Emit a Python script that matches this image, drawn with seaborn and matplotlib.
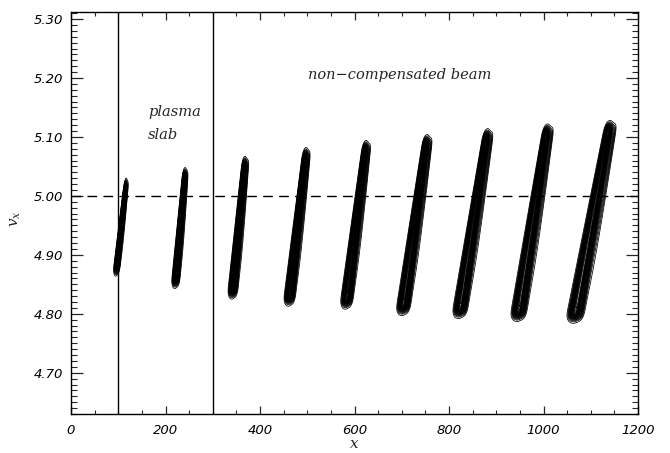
import numpy as np
import matplotlib
matplotlib.use('Agg')
import matplotlib.pyplot as plt
from matplotlib.ticker import MultipleLocator, FormatStrFormatter
import seaborn as sns

sns.set_style('ticks')
plt.rcParams['font.family'] = ['DejaVu Sans']
plt.rcParams['mathtext.fontset'] = 'dejavuserif'

# beam snapshots: bottom and top tip of each phase-space blob
blob_x_bottom = [97, 222, 343, 463, 584, 704, 824, 948, 1068]
blob_v_bottom = [4.875, 4.854, 4.836, 4.824, 4.819, 4.808, 4.803, 4.798, 4.795]
blob_x_top = [116, 241, 368, 497, 624, 753, 881, 1008, 1140]
blob_v_top = [5.019, 5.037, 5.056, 5.071, 5.083, 5.093, 5.103, 5.111, 5.117]
blob_width = [2.6, 3.3, 4.0, 4.6, 5.0, 5.6, 6.0, 6.4, 7.0]

slab_edges = [100, 300]
v_ref = 5.00
x_range = [0, 1200]
v_range = [4.63, 5.312]


def phase_space_density(X, V):
    Z = np.zeros_like(X)
    s = 0.007
    for xb, vb, xt, vt, w in zip(blob_x_bottom, blob_v_bottom, blob_x_top, blob_v_top, blob_width):
        t = (V - vb) / (vt - vb)
        xc = xb + t * (xt - xb)
        tc = np.clip(t, 0, 1)
        sig = w * (1.4 - 0.6 * tc)
        env = 0.5 * (np.tanh((V - vb) / s) - np.tanh((V - vt) / s))
        # a few parallel filaments give the streaky inside of the contours
        core = (1.1 * np.exp(-0.5 * ((X - xc + 0.7 * sig) / (0.55 * sig)) ** 2)
                + 0.85 * np.exp(-0.5 * ((X - xc) / (0.4 * sig)) ** 2)
                + 0.6 * np.exp(-0.5 * ((X - xc - 0.8 * sig) / (0.45 * sig)) ** 2))
        side = 0.3 * np.exp(-0.5 * ((X - xc - 1.8 * sig) / (0.45 * sig)) ** 2) * tc
        Z += env * (core + side)
    return Z


fig = plt.figure(figsize=(6.7, 4.53), dpi=100)
ax = fig.add_axes([71 / 670, 39 / 453, 567 / 670, 402 / 453])

xg = np.linspace(x_range[0], x_range[1], 2401)
vg = np.linspace(v_range[0], v_range[1], 1000)
X, V = np.meshgrid(xg, vg)
Z = phase_space_density(X, V)
ax.contour(X, V, Z, levels=np.linspace(0.06, 1.5, 26), colors='k', linewidths=0.55)

# slab boundaries and reference velocity
for xe in slab_edges:
    sns.lineplot(x=[xe, xe], y=v_range, color='k', lw=1.0, ax=ax,
                 sort=False, estimator=None)
sns.lineplot(x=x_range, y=[v_ref, v_ref], color='k', lw=1.0, ax=ax,
             sort=False, estimator=None)
ax.lines[-1].set_dashes((7, 4.5))

ax.text(163, 5.142, 'plasma', family='DejaVu Serif', style='italic', fontsize=10.5, va='center')
ax.text(163, 5.103, 'slab', family='DejaVu Serif', style='italic', fontsize=10.5, va='center')
ax.text(502, 5.205, 'non\u2212compensated beam', family='DejaVu Serif', style='italic',
        fontsize=10.5, va='center')

ax.set_xlim(*x_range)
ax.set_ylim(*v_range)
ax.xaxis.set_major_locator(MultipleLocator(200))
ax.xaxis.set_minor_locator(MultipleLocator(50))
ax.yaxis.set_major_locator(MultipleLocator(0.10))
ax.yaxis.set_minor_locator(MultipleLocator(0.01))
ax.yaxis.set_major_formatter(FormatStrFormatter('%.2f'))

ax.tick_params(axis='x', which='major', direction='in', length=6, width=0.9, top=True, bottom=True, pad=7)
ax.tick_params(axis='x', which='minor', direction='in', length=3, width=0.8, top=True, bottom=True)
ax.tick_params(axis='y', which='major', direction='in', length=8.5, width=0.9, left=True, right=True, pad=6)
ax.tick_params(axis='y', which='minor', direction='in', length=4.3, width=0.8, left=True, right=True)
for lab in ax.get_xticklabels() + ax.get_yticklabels():
    lab.set_fontstyle('oblique')
    lab.set_fontsize(9.5)
    lab.set_color('k')

for sp in ax.spines.values():
    sp.set_visible(True)
    sp.set_linewidth(1.0)
    sp.set_color('k')

ax.set_xlabel(r'$x$', fontsize=11)
ax.set_ylabel(r'$v_x$', fontsize=11)
ax.xaxis.set_label_coords(0.5, -0.055)
ax.yaxis.set_label_coords(-0.085, 0.485)

fig.savefig('out.png', dpi=100)
